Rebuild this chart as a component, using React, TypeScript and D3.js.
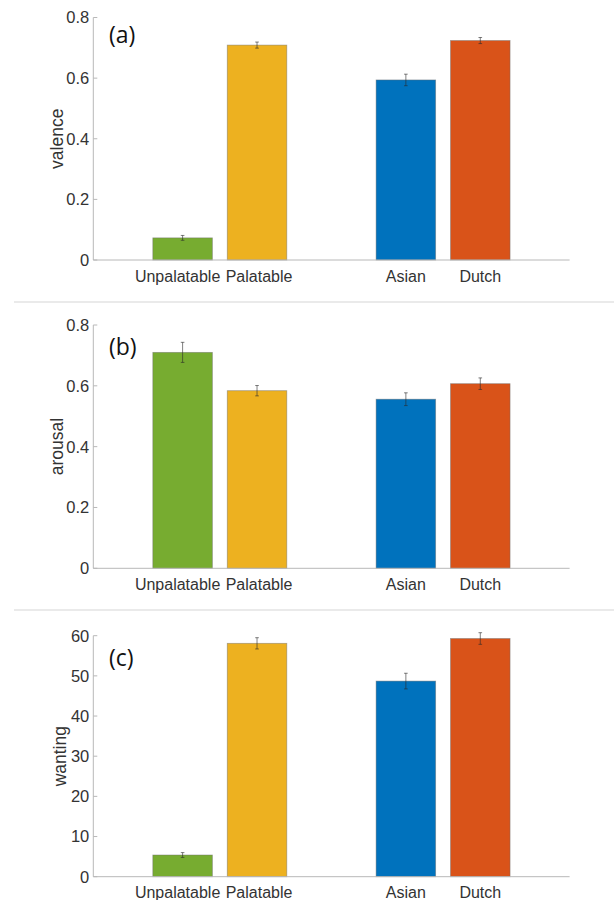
import React from "react";
import * as d3 from "d3";

// Conditions and their x slots (gap between the taste pair and the cuisine pair)
const categories = ["Unpalatable", "Palatable", "Asian", "Dutch"];
const slots = [1, 2, 4, 5];
const barColors = ["#77AC30", "#EDB120", "#0072BD", "#D95319"];

// Panel (a): valence
const valenceMean = [0.073, 0.709, 0.594, 0.724];
const valenceErr = [0.008, 0.01, 0.019, 0.01];
const valenceTicks = [0, 0.2, 0.4, 0.6, 0.8];

// Panel (b): arousal
const arousalMean = [0.71, 0.584, 0.556, 0.607];
const arousalErr = [0.033, 0.017, 0.021, 0.019];
const arousalTicks = [0, 0.2, 0.4, 0.6, 0.8];

// Panel (c): wanting
const wantingMean = [5.4, 58.1, 48.7, 59.3];
const wantingErr = [0.6, 1.4, 1.95, 1.45];
const wantingTicks = [0, 10, 20, 30, 40, 50, 60];

const W = 614;
const H = 900;
const axisLeft = 93.3;
const axisRight = 569.6;
const barWidth = 0.8;
// small horizontal nudges keep the two adjacent long labels apart
const labelShift = [-5, 2, 0, 0];

const x = d3.scaleLinear().domain([-0.2, 6.2]).range([axisLeft, axisRight]);

type PanelSpec = {
  tag: string;
  ylabel: string;
  mean: number[];
  err: number[];
  ticks: number[];
  yMax: number;
  top: number;
  bottom: number;
  tagY: number;
  ylabelX: number;
  fmt: (v: number) => string;
};

const panels: PanelSpec[] = [
  {
    tag: "(a)",
    ylabel: "valence",
    mean: valenceMean,
    err: valenceErr,
    ticks: valenceTicks,
    yMax: 0.8,
    top: 17.5,
    bottom: 260,
    tagY: 43,
    ylabelX: 57,
    fmt: (v) => (v === 0 ? "0" : d3.format(".1f")(v)),
  },
  {
    tag: "(b)",
    ylabel: "arousal",
    mean: arousalMean,
    err: arousalErr,
    ticks: arousalTicks,
    yMax: 0.8,
    top: 325,
    bottom: 568.3,
    tagY: 354.5,
    ylabelX: 57,
    fmt: (v) => (v === 0 ? "0" : d3.format(".1f")(v)),
  },
  {
    tag: "(c)",
    ylabel: "wanting",
    mean: wantingMean,
    err: wantingErr,
    ticks: wantingTicks,
    yMax: 60,
    top: 635.7,
    bottom: 876.7,
    tagY: 666,
    ylabelX: 60,
    fmt: (v) => d3.format("d")(v),
  },
];

const separators = [302, 610];

const axisColor = "#b8b8b8";
const textColor = "#333333";
const sans = "Liberation Sans, Arial, Helvetica, sans-serif";

function Panel({ p }: { p: PanelSpec }) {
  const y = d3.scaleLinear().domain([0, p.yMax]).range([p.bottom, p.top]);
  const bw = x(barWidth) - x(0);
  const cap = 1.8;
  return (
    <g>
      {/* bars */}
      {p.mean.map((m, i) => (
        <rect
          key={"bar" + i}
          x={x(slots[i]) - bw / 2}
          y={y(m)}
          width={bw}
          height={y(0) - y(m)}
          fill={barColors[i]}
          stroke="#6e6e6e"
          strokeOpacity={0.55}
          strokeWidth={0.8}
        />
      ))}
      {/* error bars */}
      {p.mean.map((m, i) => {
        const cx = x(slots[i]);
        const y1 = y(m + p.err[i]);
        const y2 = y(m - p.err[i]);
        return (
          <g key={"err" + i} stroke="#2a2a2a" strokeWidth={0.8} strokeOpacity={0.75}>
            <line x1={cx} x2={cx} y1={y1} y2={y2} />
            <line x1={cx - cap} x2={cx + cap} y1={y1} y2={y1} />
            <line x1={cx - cap} x2={cx + cap} y1={y2} y2={y2} />
          </g>
        );
      })}
      {/* axes */}
      <line x1={axisLeft} x2={axisLeft} y1={p.top} y2={p.bottom} stroke={axisColor} strokeWidth={1} />
      <line x1={axisLeft} x2={axisRight} y1={p.bottom} y2={p.bottom} stroke={axisColor} strokeWidth={1} />
      {p.ticks.map((t) => (
        <g key={"tick" + t}>
          <line x1={axisLeft} x2={axisLeft + 4} y1={y(t)} y2={y(t)} stroke={axisColor} strokeWidth={1} />
          <text
            x={axisLeft - 4}
            y={y(t)}
            dy="0.36em"
            textAnchor="end"
            fontFamily={sans}
            fontSize={16.5}
            fill={textColor}
          >
            {p.fmt(t)}
          </text>
        </g>
      ))}
      {categories.map((c, i) => (
        <text
          key={"cat" + c}
          x={x(slots[i]) + labelShift[i]}
          y={p.bottom + 21.5}
          textAnchor="middle"
          fontFamily={sans}
          fontSize={16}
          fill={textColor}
        >
          {c}
        </text>
      ))}
      <text
        transform={`translate(${p.ylabelX},${(p.top + p.bottom) / 2}) rotate(-90)`}
        dy="0.36em"
        textAnchor="middle"
        fontFamily={sans}
        fontSize={17.5}
        fill={textColor}
      >
        {p.ylabel}
      </text>
      <text x={109} y={p.tagY} fontFamily="Open Sans, Noto Sans, sans-serif" fontSize={23} fill="#111">
        {p.tag}
      </text>
    </g>
  );
}

export default function App() {
  return (
    <svg
      width={W}
      height={H}
      viewBox={`0 0 ${W} ${H}`}
      style={{ position: "absolute", left: 0, top: 0, background: "#fff" }}
    >
      <rect width={W} height={H} fill="#fff" />
      {separators.map((s) => (
        <line key={"sep" + s} x1={14} x2={W} y1={s} y2={s} stroke="#d6d6d6" strokeWidth={1.2} />
      ))}
      {panels.map((p) => (
        <Panel key={p.tag} p={p} />
      ))}
    </svg>
  );
}
